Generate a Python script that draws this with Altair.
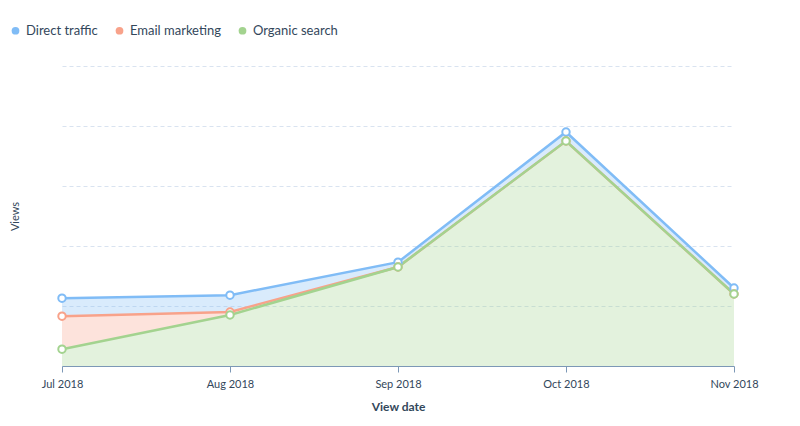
import altair as alt
import pandas as pd

dates = ["Jul 2018", "Aug 2018", "Sep 2018", "Oct 2018", "Nov 2018"]
series_names = ["Direct traffic", "Email marketing", "Organic search"]
direct = [30, 28, 8, 15, 10]
email = [55, 5, 0, 0, 0]
organic = [28, 85, 165, 375, 120]
stack_rank = {"Organic search": 0, "Email marketing": 1, "Direct traffic": 2}
colors = ["#80bcf6", "#f8a28a", "#a3d38f"]

rows = []
for name, vals in zip(series_names, [direct, email, organic]):
    for d, v in zip(dates, vals):
        rows.append({"date": d, "series": name, "value": v, "rank": stack_rank[name]})
df = pd.DataFrame(rows)

font = "Lato"
text_color = "#33475b"

base = alt.Chart(df).transform_stack(
    stack="value", groupby=["date"], as_=["y0", "y1"],
    sort=[alt.SortField("rank", order="ascending")]
)

x = alt.X("date:N", sort=dates, title="View date",
          scale=alt.Scale(type="point", padding=0),
          axis=alt.Axis(labelAngle=0, labelFontSize=11, labelColor=text_color, labelFont=font,
                        titleFont=font, titleFontSize=12, titleFontWeight="bold", titleColor=text_color,
                        domainColor="#7c98b6", tickColor="#7c98b6", tickSize=6, grid=False,
                        labelPadding=6, titlePadding=12))
yscale = alt.Scale(domain=[0, 500], nice=False)
color = alt.Color("series:N", scale=alt.Scale(domain=series_names, range=colors),
                  legend=alt.Legend(orient="none", direction="horizontal", legendX=-53, legendY=-42,
                                    title=None, symbolType="circle", symbolSize=60, symbolStrokeWidth=0,
                                    symbolOpacity=1,
                                    labelFont=font, labelFontSize=13, labelColor=text_color,
                                    columnPadding=15, symbolOffset=0))

area = base.mark_area(opacity=0.3, line=False).encode(
    x=x,
    y=alt.Y("y1:Q", scale=yscale, title="Views",
            axis=alt.Axis(labels=False, ticks=False, domain=False, values=[0, 100, 200, 300, 400, 500],
                          grid=True, gridColor="#d9e3f0", gridDash=[4, 3],
                          titleFont=font, titleFontSize=11, titleFontWeight="normal", titleColor=text_color,
                          titleX=-42, titleY=150)),
    y2="y0:Q",
    color=color,
)
line = base.mark_line(strokeWidth=2.5).encode(
    x=x, y=alt.Y("y1:Q", scale=yscale), color=color,
    detail="series:N",
)
points = base.mark_point(filled=False, fill="white", fillOpacity=1, size=55, strokeWidth=2, opacity=1).encode(
    x=x, y=alt.Y("y1:Q", scale=yscale), stroke=alt.Stroke("series:N", scale=alt.Scale(domain=series_names, range=colors), legend=None),
)

chart = alt.layer(area, line, points).properties(
    width=672, height=300,
    autosize=alt.AutoSizeParams(type="none"),
    padding={"left": 54, "top": 58, "right": 58, "bottom": 52},
    background="white",
).configure_view(stroke=None)

chart.save("out.html", embed_options={"renderer": "svg", "actions": False})
